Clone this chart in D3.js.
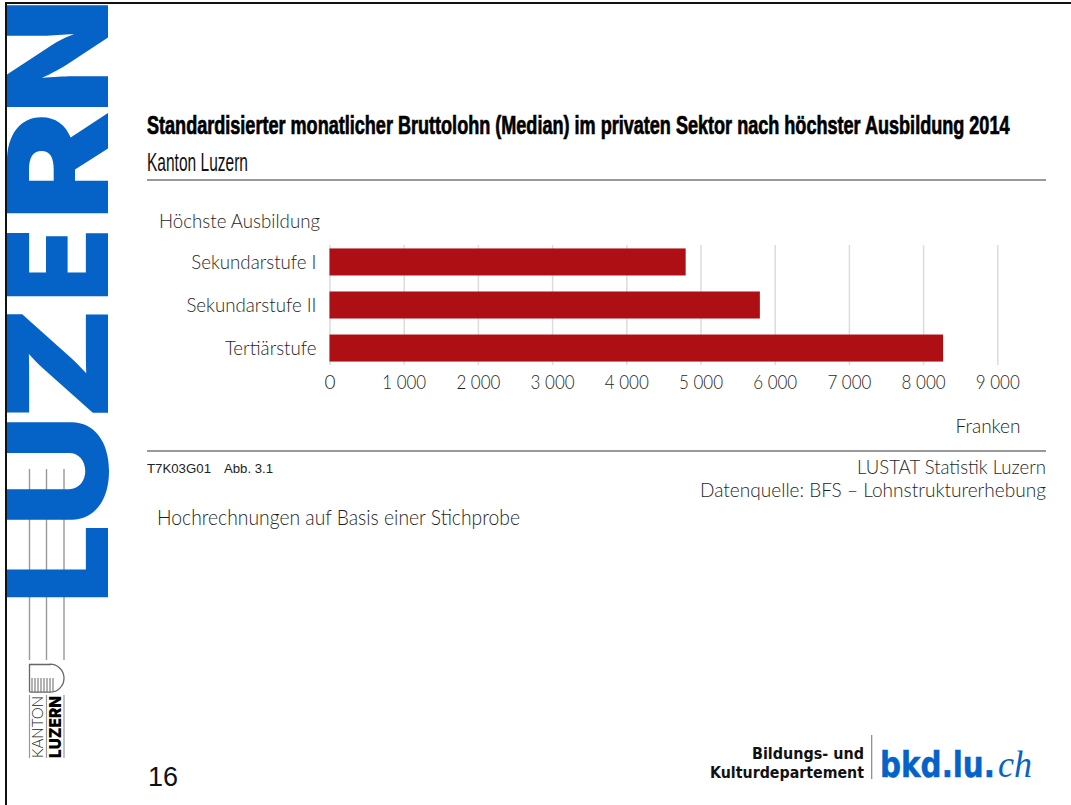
<!DOCTYPE html>
<html lang="de">
<head>
<meta charset="utf-8">
<title>Bruttolohn nach höchster Ausbildung 2014</title>
<script src="https://cdn.jsdelivr.net/npm/d3@7"></script>
<style>
  html, body { margin: 0; padding: 0; background: #fff; }
  svg { display: block; }
  text { font-family: Lato, "Open Sans", sans-serif; font-weight: 300; fill: #1f1f1f; }
</style>
</head>
<body>
<div id="chart"></div>
<script>
// Median monthly gross wage by highest education, private sector, canton of Lucerne, 2014
const categories = ["Sekundarstufe I", "Sekundarstufe II", "Tertiärstufe"];
const wages = [4800, 5800, 8270];
const wageTicks = [0, 1000, 2000, 3000, 4000, 5000, 6000, 7000, 8000, 9000];

const title = "Standardisierter monatlicher Bruttolohn (Median) im privaten Sektor nach höchster Ausbildung 2014";
const subtitle = "Kanton Luzern";
const categoryHeading = "Höchste Ausbildung";
const unitLabel = "Franken";
const tableCode = "T7K03G01";
const figureCode = "Abb. 3.1";
const publisher = "LUSTAT Statistik Luzern";
const dataSource = "Datenquelle: BFS – Lohnstrukturerhebung";
const footnote = "Hochrechnungen auf Basis einer Stichprobe";
const pageNumber = "16";

const BLUE = "#0563c8";
const RED = "#ae0f15";
const RULE = "#999";
const HEAVY = "Inter, Roboto, sans-serif";

const W = 1071, H = 805;
const svg = d3.select("#chart").append("svg").attr("width", W).attr("height", H);

// Text helper: places a label and stretches it to a fixed run length
function label(parent, str, x, y, opts = {}) {
  const t = parent.append("text").attr("x", x).attr("y", y).text(str)
    .attr("font-size", opts.size || 19)
    .attr("text-anchor", opts.anchor || "start");
  if (opts.family) t.style("font-family", opts.family);
  if (opts.weight) t.style("font-weight", opts.weight);
  if (opts.fill) t.style("fill", opts.fill);
  if (opts.style) t.style("font-style", opts.style);
  if (opts.stroke) t.style("stroke", opts.fill || "#000").style("stroke-width", opts.stroke);
  if (opts.length) t.attr("textLength", opts.length).attr("lengthAdjust", "spacingAndGlyphs");
  return t;
}

// Slide frame
svg.append("line").attr("x1", 6).attr("x2", W).attr("y1", 3).attr("y2", 3).attr("stroke", "#111").attr("stroke-width", 2);
svg.append("line").attr("x1", 6).attr("x2", 6).attr("y1", 2).attr("y2", H).attr("stroke", "#111").attr("stroke-width", 2);

// Canton sidebar: the three thin lines run behind the wordmark
const sidebar = svg.append("g");
[29.5, 46.5, 64].forEach(x => {
  sidebar.append("line").attr("x1", x).attr("x2", x).attr("y1", 469).attr("y2", 660)
    .attr("stroke", RULE).attr("stroke-width", 1.4);
  sidebar.append("line").attr("x1", x).attr("x2", x).attr("y1", 695).attr("y2", 758)
    .attr("stroke", RULE).attr("stroke-width", 1.2);
});

svg.append("defs").append("clipPath").attr("id", "wordmark-clip").append("rect")
  .attr("x", 7).attr("y", 0).attr("width", 110).attr("height", 620);

// Wordmark letters, each fitted to its own vertical run along the page edge
const wordmark = sidebar.append("g").attr("clip-path", "url(#wordmark-clip)");
const wordmarkLetters = [
  { ch: "L", y0: 604, y1: 524 },
  { ch: "U", y0: 527, y1: 415 },
  { ch: "Z", y0: 421, y1: 306 },
  { ch: "E", y0: 302, y1: 228 },
  { ch: "R", y0: 221, y1: 111 },
  { ch: "N", y0: 114, y1: -2 }
];
wordmarkLetters.forEach(d => {
  wordmark.append("text")
    .attr("transform", `translate(108,${d.y0}) rotate(-90)`)
    .attr("font-size", 139)
    .attr("textLength", d.y0 - d.y1)
    .attr("lengthAdjust", "spacingAndGlyphs")
    .style("font-family", HEAVY)
    .style("font-weight", 900)
    .style("fill", BLUE)
    .text(d.ch);
});

// Canton crest
const crest = sidebar.append("g");
const crestPath = d3.path();
crestPath.moveTo(29.5, 692);
crestPath.lineTo(29.5, 664.5);
crestPath.lineTo(50, 664.5);
crestPath.arc(50, 678.2, 14, -Math.PI / 2, Math.PI / 2);
crestPath.lineTo(29.5, 692);
crest.append("path").attr("d", crestPath.toString()).attr("fill", "none").attr("stroke", "#666").attr("stroke-width", 1.3);
d3.range(32, 56, 3).forEach(x => {
  crest.append("line").attr("x1", x).attr("x2", x).attr("y1", 678).attr("y2", 692)
    .attr("stroke", "#666").attr("stroke-width", 1);
});
label(sidebar, "KANTON", 0, 0, { size: 15.5, length: 62, family: "Lato", weight: 300, fill: "#222" })
  .attr("x", null).attr("y", null).attr("transform", "translate(42.5,758) rotate(-90)");
label(sidebar, "LUZERN", 0, 0, { size: 16.5, length: 62, family: HEAVY, weight: 900, fill: "#000" })
  .attr("x", null).attr("y", null).attr("transform", "translate(61,758) rotate(-90)");

// Heading block
label(svg, title, 147, 134, { size: 25, length: 862.5, family: "'Liberation Sans Narrow', 'Liberation Sans'", weight: 700, fill: "#000", stroke: 0.7 });
label(svg, subtitle, 147, 171, { size: 26, length: 101, family: "'Liberation Sans Narrow', 'Liberation Sans'", weight: 400, fill: "#111" });
svg.append("line").attr("x1", 147).attr("x2", 1046).attr("y1", 180).attr("y2", 180).attr("stroke", RULE).attr("stroke-width", 2);

// Scales and axes
const x = d3.scaleLinear().domain([0, 9000]).range([329.5, 997.3]);
const y = d3.scaleBand().domain(categories).range([245, 365]).paddingInner(0.372).paddingOuter(0.08);
const groupThousands = d3.formatLocale({ decimal: ".", thousands: "\u00a0", grouping: [3], currency: ["", ""] }).format(",d");

const grid = svg.append("g").attr("transform", "translate(0,365)")
  .call(d3.axisBottom(x).tickValues(wageTicks).tickSize(-120).tickFormat(""));
grid.select(".domain").remove();
grid.selectAll(".tick line").attr("stroke", "#dcdcdc").attr("stroke-width", 1.5);

svg.append("g").selectAll("rect").data(categories).join("rect")
  .attr("x", x(0))
  .attr("y", d => y(d))
  .attr("width", (d, i) => x(wages[i]) - x(0))
  .attr("height", y.bandwidth())
  .attr("fill", RED);

const xAxis = svg.append("g").attr("transform", "translate(0,388.5)")
  .call(d3.axisBottom(x).tickValues(wageTicks).tickSize(0).tickPadding(0).tickFormat(groupThousands));
xAxis.select(".domain").remove();
xAxis.selectAll("text").attr("y", 0).attr("dy", 0).attr("font-size", 19).style("font-weight", 300)
  .filter(d => d > 0).attr("textLength", 44).attr("lengthAdjust", "spacingAndGlyphs");

const yAxis = svg.append("g").attr("transform", "translate(316.5,0)")
  .call(d3.axisLeft(y).tickSize(0).tickPadding(0));
yAxis.select(".domain").remove();
yAxis.selectAll("text").attr("x", 0).attr("dy", "0.36em").attr("font-size", 18.7).style("font-weight", 300);

label(svg, categoryHeading, 159, 228, { length: 161 });
label(svg, unitLabel, 1020.5, 432.5, { length: 65, anchor: "end" });

// Source block
svg.append("line").attr("x1", 147).attr("x2", 1046).attr("y1", 451).attr("y2", 451).attr("stroke", RULE).attr("stroke-width", 2);
label(svg, tableCode, 147, 473, { size: 12, length: 64, family: "'Liberation Sans'", weight: 400, fill: "#222" });
label(svg, figureCode, 224, 473, { size: 12, length: 49, family: "'Liberation Sans'", weight: 400, fill: "#222" });
label(svg, publisher, 1046, 474, { length: 189, anchor: "end" });
label(svg, dataSource, 1046, 496.5, { length: 346, anchor: "end" });
label(svg, footnote, 157, 525, { size: 21, length: 363 });

// Page number and department mark
label(svg, pageNumber, 148, 786, { size: 27, family: "'Liberation Sans'", weight: 400, fill: "#111" });
label(svg, "Bildungs- und", 864, 759, { size: 16.5, length: 112, anchor: "end", family: "'DejaVu Sans'", weight: 700, fill: "#111" });
label(svg, "Kulturdepartement", 864, 777.5, { size: 16.5, length: 154, anchor: "end", family: "'DejaVu Sans'", weight: 700, fill: "#111" });
svg.append("line").attr("x1", 871.7).attr("x2", 871.7).attr("y1", 735).attr("y2", 779).attr("stroke", "#888").attr("stroke-width", 1.2);
label(svg, "bkd.lu.", 0, 0, { size: 35, family: "'DejaVu Sans'", weight: 700, fill: BLUE, stroke: 0.5 })
  .attr("x", null).attr("y", null).attr("transform", "translate(880,777) scale(0.84,1)");
label(svg, "ch", 998, 777, { size: 37, length: 34, family: "'Liberation Serif'", weight: 400, style: "italic", fill: BLUE });
</script>
</body>
</html>
